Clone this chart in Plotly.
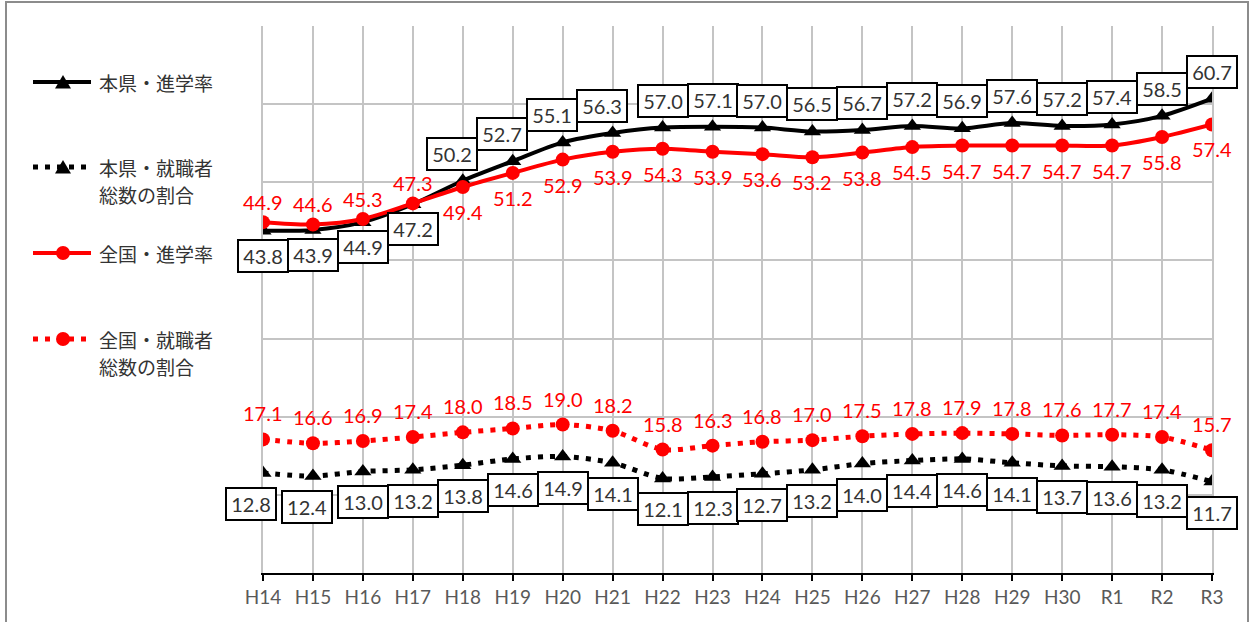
import plotly.graph_objects as go

# ---------------- data ----------------
years = ["H14", "H15", "H16", "H17", "H18", "H19", "H20", "H21", "H22", "H23",
         "H24", "H25", "H26", "H27", "H28", "H29", "H30", "R1", "R2", "R3"]

pref_rate = [43.8, 43.9, 44.9, 47.2, 50.2, 52.7, 55.1, 56.3, 57.0, 57.1,
             57.0, 56.5, 56.7, 57.2, 56.9, 57.6, 57.2, 57.4, 58.5, 60.7]
pref_job = [12.8, 12.4, 13.0, 13.2, 13.8, 14.6, 14.9, 14.1, 12.1, 12.3,
            12.7, 13.2, 14.0, 14.4, 14.6, 14.1, 13.7, 13.6, 13.2, 11.7]
nat_rate = [44.9, 44.6, 45.3, 47.3, 49.4, 51.2, 52.9, 53.9, 54.3, 53.9,
            53.6, 53.2, 53.8, 54.5, 54.7, 54.7, 54.7, 54.7, 55.8, 57.4]
nat_job = [17.1, 16.6, 16.9, 17.4, 18.0, 18.5, 19.0, 18.2, 15.8, 16.3,
           16.8, 17.0, 17.5, 17.8, 17.9, 17.8, 17.6, 17.7, 17.4, 15.7]

# ---------------- layout constants ----------------
W, H = 1253, 622
PL, PR, PT, PB = 263, 1212, 26, 573  # plot area in px


def px(x):
    return x / W


def py(y):
    return 1 - y / H


NUM_FONT = "Lato, 'Liberation Sans', sans-serif"
JP_FONT = "'Noto Sans CJK JP', sans-serif"
BLACK = "#000000"
RED = "#FF0000"
GRID = "#C4C4C4"

fig = go.Figure()

fig.add_trace(go.Scatter(x=years, y=pref_rate, name="本県・進学率", mode="lines+markers",
                         line=dict(color=BLACK, width=4, shape="spline", smoothing=0.8),
                         marker=dict(symbol="triangle-up", size=15, color=BLACK),
                         showlegend=False))
fig.add_trace(go.Scatter(x=years, y=pref_job, name="本県・就職者総数の割合", mode="lines+markers",
                         line=dict(color=BLACK, width=5, dash="5px,7px", shape="spline", smoothing=0.8),
                         marker=dict(symbol="triangle-up", size=15, color=BLACK),
                         showlegend=False))
fig.add_trace(go.Scatter(x=years, y=nat_rate, name="全国・進学率", mode="lines+markers",
                         line=dict(color=RED, width=4, shape="spline", smoothing=0.8),
                         marker=dict(symbol="circle", size=14, color=RED),
                         showlegend=False))
fig.add_trace(go.Scatter(x=years, y=nat_job, name="全国・就職者総数の割合", mode="lines+markers",
                         line=dict(color=RED, width=5, dash="5px,7px", shape="spline", smoothing=0.8),
                         marker=dict(symbol="circle", size=14, color=RED),
                         showlegend=False))

annotations = []
box_style = dict(bgcolor="white", bordercolor=BLACK, borderwidth=2, borderpad=2,
                 width=44, height=26, font=dict(family=NUM_FONT, size=20, color="#333333"))

# 本県・進学率 : boxed labels
for i, (c, v) in enumerate(zip(years, pref_rate)):
    if i < 4:
        ys, xs = -25, 0
    else:
        ys, xs = 27, (-11 if i < 8 else 0)
    annotations.append(dict(x=c, y=v, text=f"{v:.1f}", showarrow=False,
                            xshift=xs, yshift=ys, **box_style))

# 本県・就職者総数の割合 : boxed labels below
for i, (c, v) in enumerate(zip(years, pref_job)):
    xs = -12 if i == 0 else (-6 if i == 1 else 0)
    annotations.append(dict(x=c, y=v, text=f"{v:.1f}", showarrow=False,
                            xshift=xs, yshift=-31, **box_style))

# 全国・進学率 : red labels
for i, (c, v) in enumerate(zip(years, nat_rate)):
    ys = 20 if i < 4 else -25
    annotations.append(dict(x=c, y=v, text=f"{v:.1f}", showarrow=False, yshift=ys,
                            font=dict(family=NUM_FONT, size=20, color=RED)))

# 全国・就職者総数の割合 : red labels above
for c, v in zip(years, nat_job):
    annotations.append(dict(x=c, y=v, text=f"{v:.1f}", showarrow=False, yshift=26,
                            font=dict(family=NUM_FONT, size=20, color=RED)))

# ---------------- custom legend ----------------
shapes = []
legend_rows = [  # (line y px, color, dashed, symbol, text lines)
    (82, BLACK, False, "tri", ["本県・進学率"]),
    (167, BLACK, True, "tri", ["本県・就職者", "総数の割合"]),
    (253, RED, False, "circ", ["全国・進学率"]),
    (339, RED, True, "circ", ["全国・就職者", "総数の割合"]),
]
for ly, col, dashed, sym, lines in legend_rows:
    shapes.append(dict(type="line", xref="paper", yref="paper",
                       x0=px(33), x1=px(91), y0=py(ly), y1=py(ly),
                       line=dict(color=col, width=5 if dashed else 4,
                                 dash="5px,7px" if dashed else "solid")))
    if sym == "tri":
        path = (f"M {px(55)},{py(ly + 6.5)} L {px(71)},{py(ly + 6.5)} "
                f"L {px(63)},{py(ly - 7)} Z")
        shapes.append(dict(type="path", xref="paper", yref="paper", path=path,
                           fillcolor=col, line=dict(color=col, width=0)))
    else:
        shapes.append(dict(type="circle", xref="paper", yref="paper",
                           x0=px(56), x1=px(70), y0=py(ly + 7), y1=py(ly - 7),
                           fillcolor=col, line=dict(color=col, width=0)))
    for k, t in enumerate(lines):
        annotations.append(dict(xref="paper", yref="paper", x=px(97), y=py(ly + 27 * k),
                                xanchor="left", yanchor="middle", text=t, showarrow=False,
                                font=dict(family=JP_FONT, size=19, color="#333333")))

# outer frame
shapes.append(dict(type="rect", xref="paper", yref="paper",
                   x0=px(6), x1=px(1248), y0=-0.05, y1=py(2),
                   line=dict(color="#8C8C8C", width=2), fillcolor="rgba(0,0,0,0)",
                   layer="below"))

fig.update_layout(
    template="none",
    width=W, height=H,
    margin=dict(l=0, r=0, t=0, b=0, pad=0, autoexpand=False),
    paper_bgcolor="white", plot_bgcolor="white",
    xaxis=dict(domain=[px(PL), px(PR)], type="category", categoryorder="array",
               categoryarray=years, range=[0, len(years) - 1], automargin=False,
               showgrid=True, gridcolor=GRID, gridwidth=2,
               showline=True, linecolor=BLACK, linewidth=2,
               ticks="outside", ticklen=6, tickwidth=2, tickcolor=BLACK,
               tickfont=dict(family=NUM_FONT, size=19, color="#595959"),
               zeroline=False, fixedrange=True),
    yaxis=dict(domain=[py(PB), py(PT)], range=[0, 70], dtick=10, automargin=False,
               showgrid=True, gridcolor=GRID, gridwidth=2,
               showline=True, linecolor=GRID, linewidth=2, mirror=True,
               showticklabels=False, ticks="", zeroline=False, fixedrange=True),
    annotations=annotations,
    shapes=shapes,
    showlegend=False,
)

fig.write_html(
    "out.html",
    config={"displayModeBar": False, "responsive": False},
    post_script="document.body.style.margin='0';document.body.style.overflow='hidden';",
)
